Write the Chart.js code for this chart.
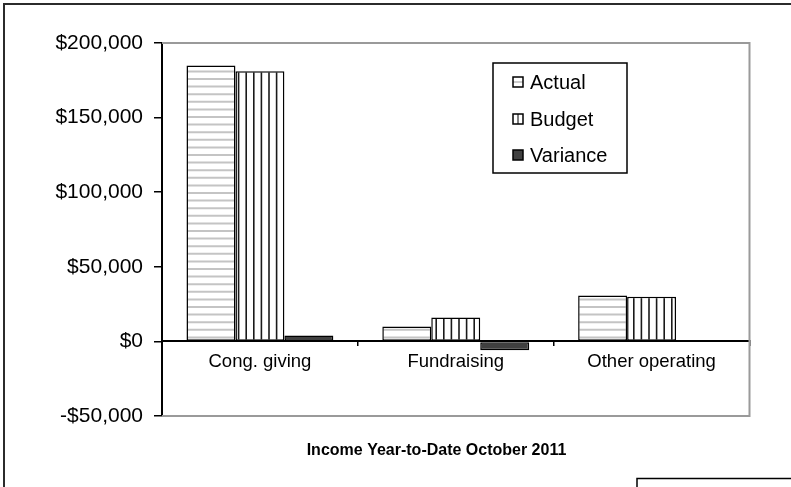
<!DOCTYPE html>
<html>
<head>
<meta charset="utf-8">
<script src="https://cdn.jsdelivr.net/npm/chart.js@4.4.0/dist/chart.umd.min.js"></script>
<style>
  html, body { margin: 0; padding: 0; background: #fff; }
  #wrap { position: relative; width: 791px; height: 487px; }
</style>
</head>
<body>
<div id="wrap"><canvas id="chart" width="791" height="487"></canvas></div>
<script>
// Data
const categories = ['Cong. giving', 'Fundraising', 'Other operating'];
const actualValues = [185000, 10000, 30700];
const budgetValues = [181000, 16000, 29900];
const varianceValues = [4000, -6000, 800];
const seriesNames = ['Actual', 'Budget', 'Variance'];
const chartTitle = 'Income Year-to-Date October 2011';

const FONT = '"Liberation Sans", Arial, sans-serif';

// Patterns
const makeStripes = (horizontal) => {
  const c = document.createElement('canvas');
  c.width = 38;
  c.height = 38;
  const g = c.getContext('2d');
  g.fillStyle = '#fff';
  g.fillRect(0, 0, 38, 38);
  g.strokeStyle = horizontal ? '#c4c4c4' : '#1a1a1a';
  g.lineWidth = horizontal ? 2 : 1.6;
  for (let i = 0; i < 5; i++) {
    const p = i * 7.6 + 3;
    g.beginPath();
    if (horizontal) { g.moveTo(0, p); g.lineTo(38, p); }
    else { g.moveTo(p, 0); g.lineTo(p, 38); }
    g.stroke();
  }
  return g.createPattern(c, 'repeat');
};

const ctx = document.getElementById('chart').getContext('2d');
const hPattern = makeStripes(true);
const vPattern = makeStripes(false);

const fmtMoney = (v) => {
  const s = '$' + Math.abs(v).toLocaleString('en-US');
  return v < 0 ? '-' + s : s;
};

// Frame, plot border, legend and title
const decorPlugin = {
  id: 'decor',
  afterDraw(chart) {
    const { ctx, chartArea: a } = chart;
    ctx.save();
    // outer frame
    ctx.strokeStyle = '#2b2b2b';
    ctx.lineWidth = 2;
    ctx.beginPath();
    ctx.moveTo(4, 487);
    ctx.lineTo(4, 4);
    ctx.lineTo(791, 4);
    ctx.stroke();
    // small box at bottom right
    ctx.lineWidth = 1.5;
    ctx.strokeStyle = '#000';
    ctx.beginPath();
    ctx.moveTo(637, 487);
    ctx.lineTo(637, 478.5);
    ctx.lineTo(791, 478.5);
    ctx.stroke();
    // plot area border
    ctx.strokeStyle = '#9a9a9a';
    ctx.lineWidth = 2;
    ctx.beginPath();
    ctx.moveTo(a.left, a.top);
    ctx.lineTo(a.right, a.top);
    ctx.lineTo(a.right, a.bottom);
    ctx.lineTo(a.left, a.bottom);
    ctx.stroke();
    // legend
    ctx.fillStyle = '#fff';
    ctx.fillRect(493, 63, 134, 110);
    ctx.strokeStyle = '#000';
    ctx.lineWidth = 1.5;
    ctx.strokeRect(493, 63, 134, 110);
    const rows = [82, 119, 155];
    ctx.font = '20px ' + FONT;
    ctx.textBaseline = 'middle';
    seriesNames.forEach((name, i) => {
      const y = rows[i];
      ctx.fillStyle = '#fff';
      ctx.fillRect(513, y - 5, 10, 10);
      ctx.strokeStyle = '#000';
      ctx.lineWidth = 1;
      if (i === 0) {
        ctx.strokeStyle = '#999';
        ctx.beginPath(); ctx.moveTo(513, y); ctx.lineTo(523, y); ctx.stroke();
      } else if (i === 1) {
        ctx.beginPath(); ctx.moveTo(518, y - 5); ctx.lineTo(518, y + 5); ctx.stroke();
      } else {
        ctx.fillStyle = '#404040';
        ctx.fillRect(513, y - 5, 10, 10);
      }
      ctx.strokeStyle = '#000';
      ctx.lineWidth = 1.5;
      ctx.strokeRect(513, y - 5, 10, 10);
      ctx.fillStyle = '#000';
      ctx.fillText(name, 530, y + 1);
    });
    // title
    ctx.font = 'bold 16px ' + FONT;
    ctx.textAlign = 'center';
    ctx.fillText(chartTitle, 436.5, 451);
    ctx.restore();
  }
};

const chart = new Chart(ctx, {
  type: 'bar',
  data: {
    labels: categories,
    datasets: [
      { label: seriesNames[0], data: actualValues, backgroundColor: hPattern },
      { label: seriesNames[1], data: budgetValues, backgroundColor: vPattern },
      { label: seriesNames[2], data: varianceValues, backgroundColor: '#404040' }
    ]
  },
  options: {
    responsive: false,
    animation: false,
    datasets: {
      bar: {
        borderColor: '#000',
        borderWidth: 1.5,
        borderSkipped: false,
        categoryPercentage: 0.75,
        barPercentage: 1.0
      }
    },
    layout: { padding: { left: 0, top: 43, right: 41.5, bottom: 71 } },
    plugins: {
      legend: { display: false },
      title: { display: false },
      tooltip: { enabled: false }
    },
    scales: {
      x: {
        position: { y: 0 },
        grid: {
          offset: true,
          drawOnChartArea: false,
          drawTicks: true,
          tickLength: 4,
          color: '#000',
          lineWidth: 1.5
        },
        border: { color: '#000', width: 2 },
        ticks: {
          color: '#000',
          padding: 5,
          font: { family: FONT, size: 18.5 }
        }
      },
      y: {
        min: -50000,
        max: 200000,
        afterFit(scale) { scale.width = 162; },
        grid: {
          drawOnChartArea: false,
          drawTicks: true,
          tickLength: 8,
          color: '#000',
          lineWidth: 1.5
        },
        border: { color: '#000', width: 2 },
        ticks: {
          stepSize: 50000,
          color: '#000',
          padding: 11,
          font: { family: FONT, size: 21 },
          callback: (v) => fmtMoney(v)
        }
      }
    }
  },
  plugins: [decorPlugin]
});
</script>
</body>
</html>
